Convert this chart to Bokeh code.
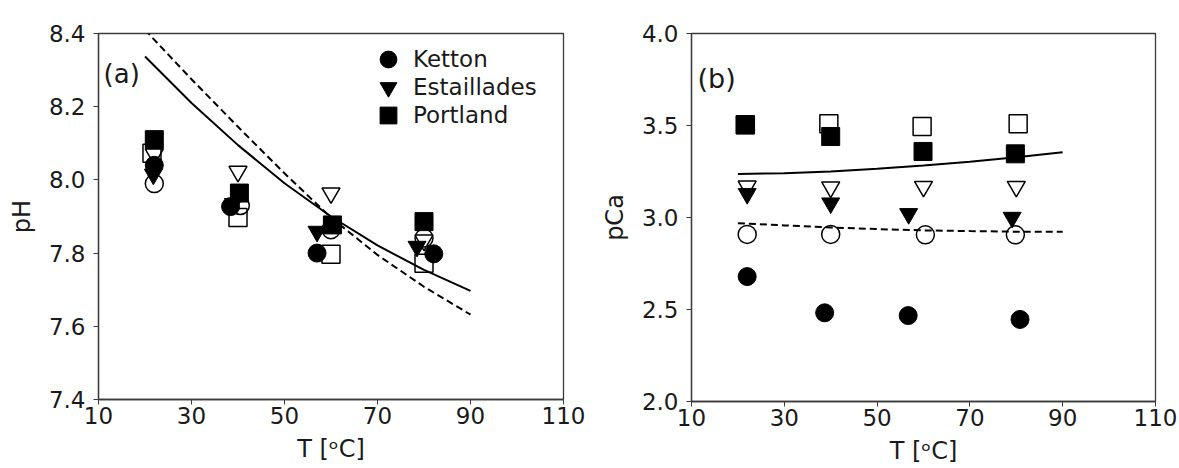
from bokeh.plotting import figure
from bokeh.layouts import row
from bokeh.models import FixedTicker, NumeralTickFormatter, Legend, LegendItem, Label, Range1d
from bokeh.embed import file_html
from bokeh.resources import INLINE

# ---------------- data ----------------
# Panel (a): pH versus temperature
ketton_T_a = [22.0, 38.4, 57.0, 82.1]
ketton_pH = [8.040, 7.927, 7.800, 7.798]
estail_T_a = [21.8, 39.0, 57.0, 78.5]
estail_pH = [8.015, 7.935, 7.859, 7.818]
portl_T_a = [22.0, 40.3, 60.3, 80.0]
portl_pH = [8.110, 7.964, 7.877, 7.886]

ketton_sim_T_a = [22.0, 40.5, 60.0, 80.0]
ketton_sim_pH = [7.990, 7.930, 7.864, 7.841]
estail_sim_T_a = [22.0, 40.0, 60.0, 80.0]
estail_sim_pH = [8.070, 8.023, 7.964, 7.835]
portl_sim_T_a = [21.5, 40.0, 60.0, 80.0]
portl_sim_pH = [8.073, 7.897, 7.797, 7.772]

model_T = [20, 30, 40, 50, 60, 70, 80, 90]
model_pH_solid = [8.337, 8.210, 8.095, 7.991, 7.900, 7.821, 7.754, 7.697]
model_pH_dashed = [8.410, 8.275, 8.145, 8.018, 7.897, 7.795, 7.708, 7.632]

# Panel (b): pCa versus temperature
ketton_T_b = [22.0, 38.7, 56.7, 80.8]
ketton_pCa = [2.679, 2.482, 2.467, 2.446]
estail_T_b = [22.0, 40.0, 56.8, 79.1]
estail_pCa = [3.129, 3.078, 3.020, 3.000]
portl_T_b = [21.6, 40.0, 59.9, 79.8]
portl_pCa = [3.504, 3.440, 3.359, 3.346]

ketton_sim_T_b = [22.0, 40.0, 60.4, 79.8]
ketton_sim_pCa = [2.908, 2.908, 2.906, 2.906]
estail_sim_T_b = [22.0, 40.0, 60.0, 80.0]
estail_sim_pCa = [3.170, 3.165, 3.168, 3.168]
portl_sim_T_b = [21.6, 39.6, 59.7, 80.4]
portl_sim_pCa = [3.504, 3.509, 3.495, 3.509]

model_pCa_solid = [3.237, 3.240, 3.250, 3.265, 3.283, 3.303, 3.328, 3.355]
model_pCa_dashed = [2.969, 2.957, 2.946, 2.937, 2.930, 2.926, 2.923, 2.922]

x_ticks = [10, 30, 50, 70, 90, 110]
pH_ticks = [7.4, 7.6, 7.8, 8.0, 8.2, 8.4]
pCa_ticks = [2.0, 2.5, 3.0, 3.5, 4.0]

# ---------------- styling ----------------
FONT = "DejaVu Sans"
TXT = "#1a1a1a"
FRAME = "#3a3a3a"
MS = 18


def style_axes(p, xlabel, ylabel, yticks):
    p.xaxis.ticker = FixedTicker(ticks=x_ticks)
    p.yaxis.ticker = FixedTicker(ticks=yticks)
    p.yaxis.formatter = NumeralTickFormatter(format="0.0")
    p.xgrid.visible = False
    p.ygrid.visible = False
    p.xaxis.axis_label = xlabel
    p.yaxis.axis_label = ylabel
    for ax in (p.xaxis, p.yaxis):
        ax.minor_tick_line_color = None
        ax.major_tick_in = 0
        ax.major_tick_out = 5
        ax.major_tick_line_color = FRAME
        ax.axis_line_color = FRAME
        ax.axis_line_width = 1.3
        ax.major_label_text_font = FONT
        ax.major_label_text_font_size = "23px"
        ax.major_label_text_color = TXT
        ax.axis_label_text_font = FONT
        ax.axis_label_text_font_size = "24px"
        ax.axis_label_text_font_style = "normal"
        ax.axis_label_text_color = TXT
    p.xaxis.major_label_standoff = 2
    p.xaxis.axis_label_standoff = 8
    p.yaxis.major_label_standoff = 8
    p.yaxis.axis_label_standoff = 10
    p.outline_line_color = FRAME
    p.outline_line_width = 1.3
    p.outline_line_alpha = 1.0


def markers(p, xs, ys, marker, filled):
    if filled:
        return p.scatter(xs, ys, marker=marker, size=MS, fill_color="black",
                         line_color="black", line_width=1)
    return p.scatter(xs, ys, marker=marker, size=MS, fill_color=None,
                     line_color="black", line_width=1.5)


def legend_row(label, renderer, bottom):
    # one single-entry legend per row, stacked with a tight pitch
    return Legend(items=[LegendItem(label=label, renderers=[renderer])],
                  location=(269, bottom), orientation="vertical",
                  glyph_width=42, glyph_height=42, spacing=0,
                  label_standoff=4, padding=0, margin=0,
                  border_line_color=None, background_fill_alpha=0,
                  label_text_font=FONT, label_text_font_size="23px",
                  label_text_color=TXT)


# ---------------- panel (a) ----------------
pa = figure(frame_width=465, frame_height=366,
            x_range=Range1d(10, 110), y_range=Range1d(7.4, 8.4),
            min_border_left=98, min_border_right=30,
            min_border_top=27, min_border_bottom=75,
            output_backend="svg", toolbar_location=None)
style_axes(pa, "T [ᵒC]", "pH", pH_ticks)

pa.line(model_T, model_pH_solid, line_color="black", line_width=2)
pa.line(model_T, model_pH_dashed, line_color="black", line_width=2, line_dash="7 4")

markers(pa, ketton_sim_T_a, ketton_sim_pH, "circle", False)
markers(pa, estail_sim_T_a, estail_sim_pH, "inverted_triangle", False)
markers(pa, portl_sim_T_a, portl_sim_pH, "square", False)
r_k = markers(pa, ketton_T_a, ketton_pH, "circle", True)
r_e = markers(pa, estail_T_a, estail_pH, "inverted_triangle", True)
r_p = markers(pa, portl_T_a, portl_pH, "square", True)

pa.add_layout(legend_row("Ketton", r_k, 319))
pa.add_layout(legend_row("Estaillades", r_e, 291))
pa.add_layout(legend_row("Portland", r_p, 263))

pa.add_layout(Label(x=11.1, y=8.288, text="(a)", text_baseline="middle",
                    text_font=FONT, text_font_size="26px", text_color=TXT))

# ---------------- panel (b) ----------------
pb = figure(frame_width=464, frame_height=368,
            x_range=Range1d(10, 110), y_range=Range1d(2.0, 4.0),
            min_border_left=98, min_border_right=24,
            min_border_top=33, min_border_bottom=67,
            output_backend="svg", toolbar_location=None)
style_axes(pb, "T [ᵒC]", "pCa", pCa_ticks)

pb.line(model_T, model_pCa_solid, line_color="black", line_width=2)
pb.line(model_T, model_pCa_dashed, line_color="black", line_width=2, line_dash="7 4")

markers(pb, ketton_sim_T_b, ketton_sim_pCa, "circle", False)
markers(pb, estail_sim_T_b, estail_sim_pCa, "inverted_triangle", False)
markers(pb, portl_sim_T_b, portl_sim_pCa, "square", False)
markers(pb, ketton_T_b, ketton_pCa, "circle", True)
markers(pb, estail_T_b, estail_pCa, "inverted_triangle", True)
markers(pb, portl_T_b, portl_pCa, "square", True)

pb.add_layout(Label(x=11.3, y=3.755, text="(b)", text_baseline="middle",
                    text_font=FONT, text_font_size="27px", text_color=TXT))

layout = row(pa, pb)
open("out.html", "w").write(file_html(layout, INLINE))
